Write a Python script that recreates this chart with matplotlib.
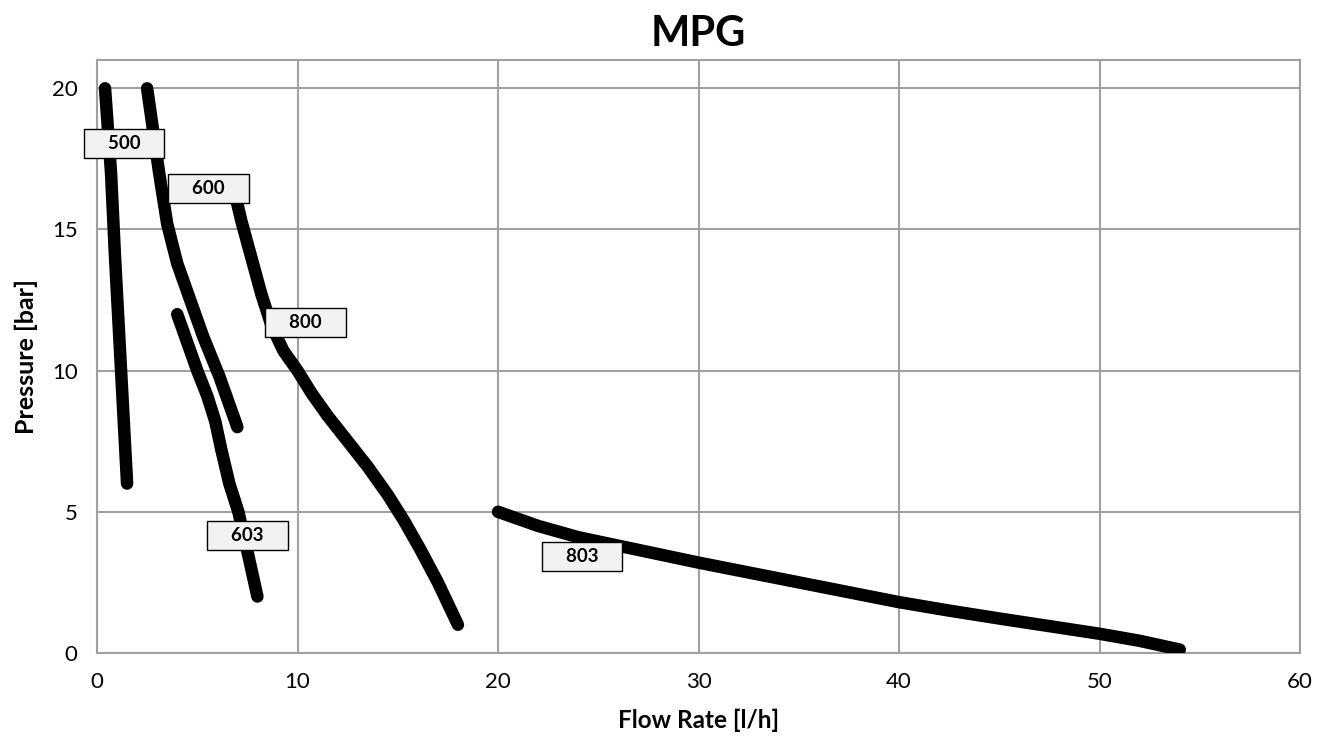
import matplotlib.pyplot as plt

# curve data (flow l/h, pressure bar)
flow_500 = [0.4, 0.55, 0.7, 0.8, 0.9, 1.05, 1.2, 1.35, 1.5]
pres_500 = [20, 18.5, 17, 15.5, 14, 12, 10, 8, 6]

flow_600 = [2.5, 2.8, 3.1, 3.5, 4.0, 4.6, 5.3, 6.1, 7.0]
pres_600 = [20, 18.5, 17, 15.2, 13.8, 12.6, 11.2, 9.8, 8]

flow_603 = [4.0, 4.5, 5.0, 5.5, 5.9, 6.2, 6.6, 7.05, 7.5, 8.0]
pres_603 = [12, 11, 10, 9.1, 8.2, 7.2, 6.0, 5, 3.6, 2]

flow_800 = [6.8, 7.2, 7.7, 8.2, 8.7, 9.3, 10.0, 10.7, 11.5, 12.5, 13.5, 14.5, 15.3, 16.1, 17.0, 18.0]
pres_800 = [16.5, 15.3, 14, 12.7, 11.6, 10.7, 10, 9.2, 8.4, 7.5, 6.6, 5.6, 4.7, 3.7, 2.5, 1.0]

flow_803 = [20, 21, 22, 23, 24, 26, 28, 30, 32.5, 35, 37.5, 40, 42.5, 45, 47.5, 50, 52, 54]
pres_803 = [5, 4.75, 4.5, 4.3, 4.1, 3.8, 3.5, 3.2, 2.85, 2.5, 2.15, 1.8, 1.5, 1.22, 0.95, 0.68, 0.43, 0.12]

labels = ['500', '600', '800', '603', '803']
label_x = [1.35, 5.55, 10.4, 7.5, 24.2]
label_y = [18.05, 16.45, 11.7, 4.15, 3.4]

plt.rcParams['font.family'] = ['Lato', 'DejaVu Sans']

fig = plt.figure(figsize=(13.27, 7.42), dpi=100)
ax = fig.add_axes([0.0731, 0.12, 0.9066, 0.799])

for fx, py in [(flow_500, pres_500), (flow_600, pres_600), (flow_603, pres_603),
               (flow_800, pres_800), (flow_803, pres_803)]:
    ax.plot(fx, py, color='black', lw=9, solid_capstyle='round',
            solid_joinstyle='round', zorder=3)

for t, lx, ly in zip(labels, label_x, label_y):
    ax.text(lx, ly, '    ' + t + '    ', ha='center', va='center', fontsize=13.5,
            fontweight='bold', zorder=5,
            bbox=dict(boxstyle='square,pad=0.32', fc='#f2f2f2', ec='black', lw=1))

ax.set_xlim(0, 60)
ax.set_ylim(0, 21)
ax.set_xticks(range(0, 61, 10))
ax.set_yticks(range(0, 21, 5))
ax.grid(True, color='#a0a0a0', lw=1.5)
ax.set_axisbelow(True)
for s in ax.spines.values():
    s.set_color('#a0a0a0')
    s.set_linewidth(1.5)
ax.tick_params(length=0, labelsize=16, pad=14)

ax.set_title('MPG', fontsize=30, fontweight='bold', pad=10)
ax.set_xlabel('Flow Rate [l/h]', fontsize=17.5, fontweight='bold', labelpad=12)
ax.set_ylabel('Pressure [bar]', fontsize=18, fontweight='bold', labelpad=10)

fig.savefig('out.png', dpi=100)
